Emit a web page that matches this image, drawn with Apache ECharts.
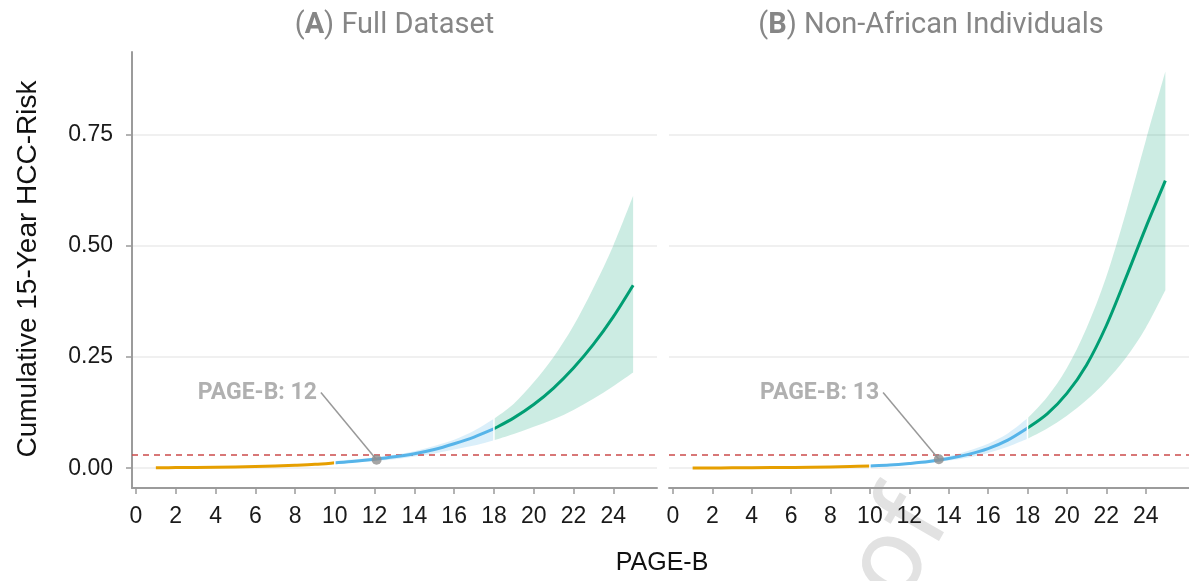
<!DOCTYPE html>
<html>
<head>
<meta charset="utf-8">
<script src="https://cdn.jsdelivr.net/npm/echarts@6/dist/echarts.min.js"></script>
<style>
    html, body { margin: 0; padding: 0; background: #fff; }
    #chart { width: 1189px; height: 581px; }
</style>
</head>
<body>
<div id="chart"></div>
<script>
// PAGE-B score
var pageB = [1, 2, 3, 4, 5, 6, 7, 8, 9, 10, 11, 12, 13, 14, 15, 16, 17, 18, 19, 20, 21, 22, 23, 24, 25];

// (A) Full Dataset: cumulative 15-year HCC risk
var riskA = [0.0010, 0.0013, 0.0017, 0.0022, 0.0029, 0.0038, 0.0050, 0.0066, 0.0087, 0.0120,
    0.0155, 0.0200, 0.0255, 0.0325, 0.0420, 0.0550, 0.0700, 0.0885,
    0.113, 0.143, 0.180, 0.225, 0.278, 0.340, 0.411];
// (B) Non-African individuals
var riskB = [0.0005, 0.0006, 0.0008, 0.0010, 0.0013, 0.0017, 0.0022, 0.0029, 0.0038, 0.0050,
    0.0070, 0.0105, 0.0150, 0.0217, 0.0310, 0.0440, 0.0630, 0.0900,
    0.122, 0.168, 0.232, 0.320, 0.428, 0.540, 0.646];

// confidence band, PAGE-B 10..25
var ciX = [10, 11, 12, 13, 14, 15, 16, 17, 18, 19, 20, 21, 22, 23, 24, 25];
var lowA = [0.010, 0.013, 0.016, 0.020, 0.026, 0.033, 0.042, 0.051, 0.063, 0.077, 0.093, 0.110, 0.131, 0.156, 0.184, 0.215];
var highA = [0.016, 0.020, 0.024, 0.030, 0.038, 0.050, 0.064, 0.084, 0.111, 0.145, 0.193, 0.250, 0.320, 0.405, 0.500, 0.612];
var lowB = [0.0035, 0.005, 0.008, 0.012, 0.017, 0.024, 0.034, 0.048, 0.066, 0.089, 0.118, 0.153, 0.196, 0.248, 0.315, 0.400];
var highB = [0.007, 0.009, 0.013, 0.019, 0.027, 0.039, 0.055, 0.078, 0.112, 0.160, 0.225, 0.315, 0.430, 0.575, 0.735, 0.891];

// risk groups: low / intermediate / high
var groupBreaks = [1, 10, 18, 25];
var threshold = 0.03;

// cut-off marker per panel
var cutX = [12.1, 13.5];
var cutY = [0.019, 0.020];
var cutText = ['PAGE-B: 12', 'PAGE-B: 13'];
var labelAt = [[9.1, 0.168], [10.47, 0.168]];
var leaderFrom = [[9.3, 0.170], [10.67, 0.170]];

var xTicks = [0, 2, 4, 6, 8, 10, 12, 14, 16, 18, 20, 22, 24];
var yTicks = [0, 0.25, 0.5, 0.75];
var panelTitles = ['Full Dataset', 'Non-African Individuals'];
var panelLetters = ['A', 'B'];

var xMin = -0.2, xMax = 26.2, yMin = -0.0445, yMax = 0.935;
var groupColors = ['#E69F00', '#56B4E9', '#009E73'];
var bandColors = ['rgba(86,180,233,0.22)', 'rgba(0,158,115,0.2)'];
var axisGray = '#9b9b9b';
var font = 'Roboto';
var axisFont = 'Liberation Sans';

var chart = echarts.init(document.getElementById('chart'));

function segment(risk, a, b) {
    var out = [];
    for (var i = 0; i < pageB.length; i++) {
        if (pageB[i] >= a && pageB[i] <= b) out.push([pageB[i], risk[i]]);
    }
    return out;
}

// catmull-rom through pixel points, as svg path commands
function curvePath(pts, first) {
    var d = (first ? 'M' : 'L') + pts[0][0] + ',' + pts[0][1];
    for (var i = 0; i < pts.length - 1; i++) {
        var p0 = pts[Math.max(i - 1, 0)], p1 = pts[i], p2 = pts[i + 1], p3 = pts[Math.min(i + 2, pts.length - 1)];
        var c1 = [p1[0] + (p2[0] - p0[0]) / 6, p1[1] + (p2[1] - p0[1]) / 6];
        var c2 = [p2[0] - (p3[0] - p1[0]) / 6, p2[1] - (p3[1] - p1[1]) / 6];
        d += 'C' + c1[0] + ',' + c1[1] + ' ' + c2[0] + ',' + c2[1] + ' ' + p2[0] + ',' + p2[1];
    }
    return d;
}

function bandRender(low, high) {
    return function (params, api) {
        var a = api.value(0), b = api.value(1);
        var top = [], bot = [];
        for (var i = 0; i < ciX.length; i++) {
            if (ciX[i] >= a && ciX[i] <= b) {
                top.push(api.coord([ciX[i], high[i]]));
                bot.push(api.coord([ciX[i], low[i]]));
            }
        }
        return {
            type: 'path',
            shape: {pathData: curvePath(top, true) + curvePath(bot.reverse(), false) + 'Z'},
            style: {fill: a < groupBreaks[2] ? bandColors[0] : bandColors[1]}
        };
    };
}

function lineRender() {
    return function (params, api) {
        var a = api.value(0), b = api.value(1), risk = api.value(2) === 0 ? riskA : riskB;
        var pts = segment(risk, a, b).map(function (d) { return api.coord(d); });
        return {
            type: 'path',
            shape: {pathData: curvePath(pts, true)},
            style: {fill: null, stroke: groupColors[api.value(3)], lineWidth: 3}
        };
    };
}

// white gaps between the groups
function gapRender(low, high) {
    return function (params, api) {
        var x = api.value(0);
        var i = ciX.indexOf(x);
        var p1 = api.coord([x, high[i]]);
        var p2 = api.coord([x, low[i]]);
        return {
            type: 'line',
            shape: {x1: p1[0], y1: p1[1] - 3, x2: p2[0], y2: p2[1] + 3},
            style: {stroke: '#fff', lineWidth: 1.5}
        };
    };
}

var grids = [
    {left: 132, top: 52, width: 525, height: 436},
    {left: 669, top: 52, width: 524, height: 436}
];

var xAxes = [], yAxes = [], series = [];
var panels = [
    {low: lowA, high: highA},
    {low: lowB, high: highB}
];

panels.forEach(function (p, k) {
    xAxes.push({
        gridIndex: k, type: 'value', min: xMin, max: xMax,
        axisLine: {show: true, onZero: false, lineStyle: {color: axisGray, width: 2}},
        axisTick: {show: true, customValues: xTicks, length: 6, lineStyle: {color: axisGray, width: 1.5}},
        axisLabel: {customValues: xTicks, color: '#1a1a1a', fontSize: 23, fontFamily: axisFont, margin: 17},
        splitLine: {show: false}
    });
    yAxes.push({
        gridIndex: k, type: 'value', min: yMin, max: yMax, show: k === 0,
        axisLine: {show: true, onZero: false, lineStyle: {color: axisGray, width: 2}},
        axisTick: {show: true, customValues: yTicks, length: 6, lineStyle: {color: axisGray, width: 1.5}},
        axisLabel: {
            customValues: yTicks, color: '#1a1a1a', fontSize: 23, fontFamily: axisFont, margin: 19,
            formatter: function (v) { return v.toFixed(2); }
        },
        splitLine: {show: false}
    });

    // grid lines
    series.push({
        type: 'line', xAxisIndex: k, yAxisIndex: k, data: [], z: 0, silent: true,
        markLine: {
            silent: true, z: 0, symbol: ['none', 'none'], label: {show: false},
            lineStyle: {color: '#ebebeb', width: 1.5, type: 'solid'},
            data: yTicks.map(function (v) { return {yAxis: v}; })
        }
    });

    // confidence bands
    series.push({
        type: 'custom', xAxisIndex: k, yAxisIndex: k, z: 1, silent: true,
        renderItem: bandRender(p.low, p.high),
        data: [[groupBreaks[1], groupBreaks[2]], [groupBreaks[2], groupBreaks[3]]]
    });

    // threshold
    series.push({
        type: 'line', xAxisIndex: k, yAxisIndex: k, data: [], z: 2, silent: true,
        markLine: {
            silent: true, z: 2, symbol: ['none', 'none'], label: {show: false},
            lineStyle: {color: '#cc4b4b', width: 1.5, type: [6, 5]},
            data: [{yAxis: threshold}]
        }
    });

    // risk curves (one per group)
    series.push({
        type: 'custom', xAxisIndex: k, yAxisIndex: k, z: 3, silent: true,
        renderItem: lineRender(),
        data: [0, 1, 2].map(function (g) { return [groupBreaks[g], groupBreaks[g + 1], k, g]; })
    });

    series.push({
        type: 'custom', xAxisIndex: k, yAxisIndex: k, z: 4, silent: true,
        renderItem: gapRender(p.low, p.high),
        data: [[groupBreaks[1]], [groupBreaks[2]]]
    });

    // leader line + cut-off point + label
    series.push({
        type: 'line', xAxisIndex: k, yAxisIndex: k, z: 5, silent: true,
        symbol: 'none', lineStyle: {color: '#999', width: 1.5},
        data: [leaderFrom[k], [cutX[k], cutY[k]]]
    });
    series.push({
        type: 'scatter', xAxisIndex: k, yAxisIndex: k, z: 6, silent: true,
        symbolSize: 10, itemStyle: {color: '#8f8f8f'},
        data: [[cutX[k], cutY[k]]]
    });
    series.push({
        type: 'scatter', xAxisIndex: k, yAxisIndex: k, z: 6, silent: true,
        symbolSize: 0.1, itemStyle: {color: 'rgba(0,0,0,0)'},
        label: {
            show: true, position: [0, 0], align: 'right', verticalAlign: 'middle',
            formatter: cutText[k], color: '#9c9c9c', fontWeight: 'bold', fontSize: 23, fontFamily: font
        },
        data: [labelAt[k]]
    });
});

var titleRich = {
    n: {fontSize: 29, fontFamily: font, fill: '#868686'},
    b: {fontSize: 29, fontFamily: font, fill: '#868686', fontWeight: 'bold'}
};

chart.setOption({
    animation: false,
    backgroundColor: '#fff',
    grid: grids,
    xAxis: xAxes,
    yAxis: yAxes,
    series: series,
    graphic: [
        {
            type: 'text', x: 928, y: 505, rotation: Math.PI / 180 * 60, z: -1, silent: true,
            style: {text: 'Proof', fontSize: 110, fontFamily: font, fill: '#e2e2e2', align: 'right', verticalAlign: 'middle'}
        },
        {
            type: 'text', x: 394.5, y: 26,
            style: {text: '{n|(}{b|' + panelLetters[0] + '}{n|) ' + panelTitles[0] + '}', rich: titleRich, align: 'center', verticalAlign: 'middle'}
        },
        {
            type: 'text', x: 931, y: 26,
            style: {text: '{n|(}{b|' + panelLetters[1] + '}{n|) ' + panelTitles[1] + '}', rich: titleRich, align: 'center', verticalAlign: 'middle'}
        },
        {
            type: 'text', x: 28, y: 269, rotation: Math.PI / 2,
            style: {text: 'Cumulative 15-Year HCC-Risk', fontSize: 28, fontFamily: axisFont, fill: '#111', align: 'center', verticalAlign: 'middle'}
        },
        {
            type: 'text', x: 662, y: 563,
            style: {text: 'PAGE-B', fontSize: 25, fontFamily: axisFont, fill: '#111', align: 'center', verticalAlign: 'middle'}
        }
    ]
});
</script>
</body>
</html>
